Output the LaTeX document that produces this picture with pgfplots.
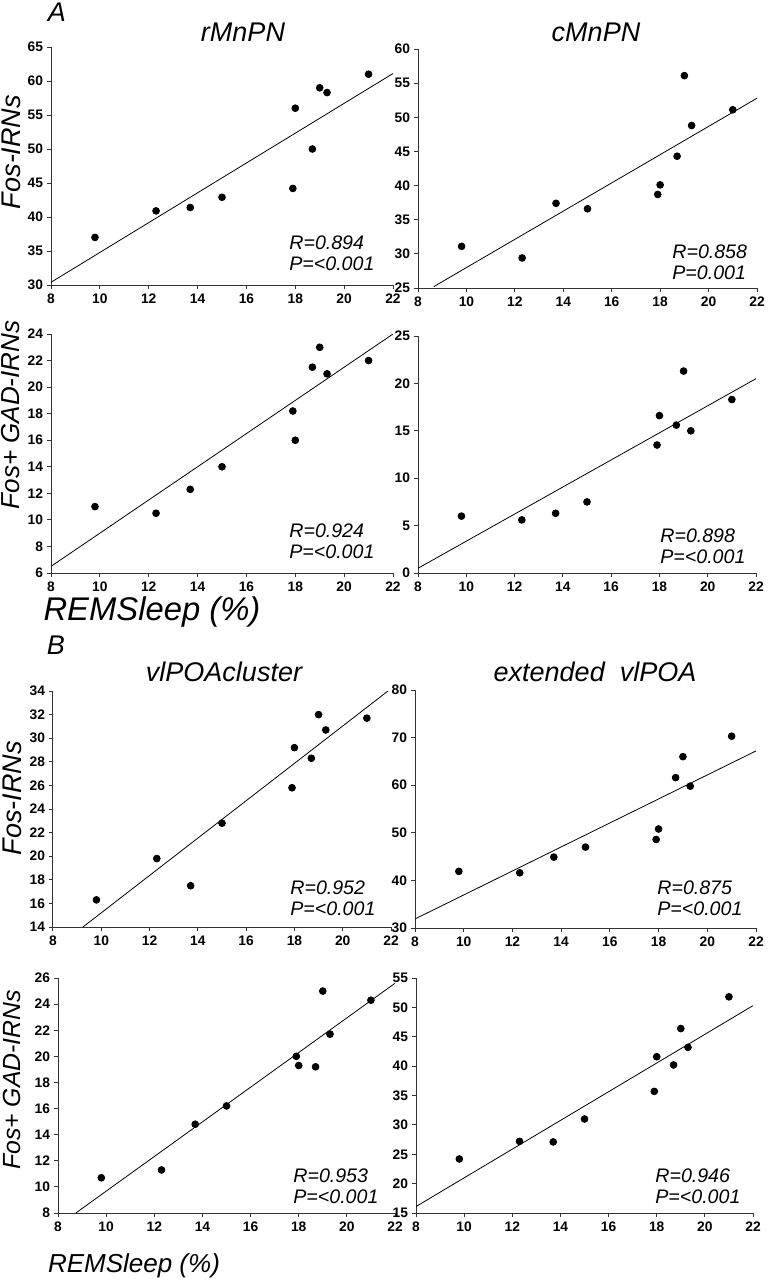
\documentclass[border=0pt]{standalone}
\usepackage{pgfplots}
\pgfplotsset{compat=1.18}
\usepackage{fontspec}
\setmainfont{Liberation Sans}

\pgfplotsset{
  panel/.style={
    scale only axis,
    anchor=south west,
    xmin=8, xmax=22,
    xtick={8,10,...,22},
    axis x line*=bottom, axis y line*=left,
    axis line style={-, black!80, line width=0.5pt},
    tick align=outside,
    major tick length=2pt,
    tick style={black!80, line width=0.5pt},
    tick label style={font=\fontsize{6.9}{8}\selectfont},
    xticklabel={\textbf{\pgfmathprintnumber[assume math mode=true]{\tick}}},
    yticklabel={\textbf{\pgfmathprintnumber[assume math mode=true]{\tick}}},
    xticklabel style={yshift=1pt},
    yticklabel style={xshift=1.5pt},
  },
  dots/.style={only marks, mark=*, mark size=1.7pt, black},
  fit/.style={no marks, black, line width=0.4pt},
}
\tikzset{stat/.style={anchor=north west, inner sep=0pt, align=left,
  font=\fontsize{9.8}{10.8}\selectfont\itshape}}

\begin{document}
\begin{tikzpicture}
\useasboundingbox (0,0) rectangle (383.5pt,-640pt);

% row 1 left: rMnPN
\begin{axis}[panel, at={(25.5pt,-142.5pt)}, width=171pt, height=119pt,
  ymin=30, ymax=65, ytick={30,35,...,65}]
\addplot[dots] coordinates {(9.8,37.0) (12.3,40.9) (13.7,41.4) (15.0,42.9) (17.9,44.2)
  (18.0,56.0) (18.7,50.0) (19.0,59.0) (19.3,58.3) (21.0,61.0)};
\addplot[fit] coordinates {(8,30.4) (22,61.1)};
\end{axis}

% row 1 right: cMnPN
\begin{axis}[panel, at={(209pt,-144pt)}, width=169.5pt, height=119.5pt,
  ymin=25, ymax=60, ytick={25,30,...,60}]
\addplot[dots] coordinates {(9.8,31.1) (12.3,29.4) (13.7,37.4) (15.0,36.6) (17.9,38.7)
  (18.0,40.1) (18.7,44.3) (19.0,56.1) (19.3,48.8) (21.0,51.1)};
\addplot[fit] coordinates {(8.65,25.2) (22,52.8)};
\end{axis}

% row 2 left
\begin{axis}[panel, at={(25.5pt,-286.5pt)}, width=171pt, height=119.5pt,
  ymin=6, ymax=24, ytick={6,8,...,24}]
\addplot[dots] coordinates {(9.8,11.0) (12.3,10.5) (13.7,12.3) (15.0,14.0) (17.9,18.2)
  (18.0,16.0) (18.7,21.5) (19.0,23.0) (19.3,21.0) (21.0,22.0)};
\addplot[fit] coordinates {(8,6.5) (22,24.0)};
\end{axis}

% row 2 right
\begin{axis}[panel, at={(209pt,-286.5pt)}, width=169pt, height=118.5pt,
  ymin=0, ymax=25, ytick={0,5,...,25}]
\addplot[dots] coordinates {(9.8,6.0) (12.3,5.6) (13.7,6.3) (15.0,7.5) (17.9,13.5)
  (18.0,16.6) (18.7,15.6) (19.0,21.3) (19.3,15.0) (21.0,18.3)};
\addplot[fit] coordinates {(8,0.5) (22,20.5)};
\end{axis}

% row 3 left: vlPOAcluster
\begin{axis}[panel, at={(26.5pt,-463.5pt)}, width=169pt, height=118pt,
  ymin=14, ymax=34, ytick={14,16,...,34}]
\addplot[dots] coordinates {(9.8,16.3) (12.3,19.8) (13.7,17.5) (15.0,22.8) (17.9,25.8)
  (18.0,29.2) (18.7,28.3) (19.0,32.0) (19.3,30.7) (21.0,31.7)};
\addplot[fit] coordinates {(9.24,14) (22,34.2)};
\end{axis}

% row 3 right: extended vlPOA
\begin{axis}[panel, at={(207.5pt,-464pt)}, width=170.5pt, height=119pt,
  ymin=30, ymax=80, ytick={30,40,...,80}]
\addplot[dots] coordinates {(9.8,41.9) (12.3,41.6) (13.7,44.9) (15.0,47.0) (17.9,48.6)
  (18.0,50.8) (18.7,61.6) (19.0,66.0) (19.3,59.8) (21.0,70.3)};
\addplot[fit] coordinates {(8,31.9) (22,67.2)};
\end{axis}

% row 4 left
\begin{axis}[panel, at={(29pt,-606.5pt)}, width=168.5pt, height=117.5pt,
  ymin=8, ymax=26, ytick={8,10,...,26}]
\addplot[dots] coordinates {(9.8,10.7) (12.3,11.3) (13.7,14.8) (15.0,16.2) (17.9,20.0)
  (18.0,19.3) (18.7,19.2) (19.0,25.0) (19.3,21.7) (21.0,24.3)};
\addplot[fit] coordinates {(8.74,8) (22,25.6)};
\end{axis}

% row 4 right
\begin{axis}[panel, at={(208pt,-606.5pt)}, width=168.5pt, height=117.5pt,
  ymin=15, ymax=55, ytick={15,20,...,55}]
\addplot[dots] coordinates {(9.8,24.2) (12.3,27.2) (13.7,27.1) (15.0,31.0) (17.9,35.7)
  (18.0,41.6) (18.7,40.2) (19.0,46.4) (19.3,43.2) (21.0,51.8)};
\addplot[fit] coordinates {(8,16.1) (22,50.3)};
\end{axis}

% panel letters and titles
\node[font=\fontsize{13.5}{14}\selectfont\itshape] at (28.5pt,-6pt) {A};
\node[font=\fontsize{13.5}{14}\selectfont\itshape] at (28pt,-322.5pt) {B};
\node[font=\fontsize{13.5}{14}\selectfont\itshape] at (121.5pt,-16pt) {rMnPN};
\node[font=\fontsize{13.5}{14}\selectfont\itshape] at (298pt,-16pt) {cMnPN};
\node[font=\fontsize{13.5}{14}\selectfont\itshape] at (112pt,-336pt) {vlPOAcluster};
\node[font=\fontsize{13.5}{14}\selectfont\itshape] at (297.5pt,-336pt) {extended\ \ vlPOA};

% y labels
\node[rotate=90, font=\fontsize{13.5}{14}\selectfont\itshape] at (5.5pt,-76pt) {Fos-IRNs};
\node[rotate=90, font=\fontsize{13}{14}\selectfont\itshape] at (5.5pt,-207.5pt) {Fos+ GAD-IRNs};
\node[rotate=90, font=\fontsize{13.5}{14}\selectfont\itshape] at (6pt,-399pt) {Fos-IRNs};
\node[rotate=90, font=\fontsize{12.4}{13}\selectfont\itshape] at (6pt,-540pt) {Fos+ GAD-IRNs};

% x labels
\node[font=\fontsize{16.4}{17}\selectfont\itshape] at (76pt,-306pt) {REMSleep (\%)};
\node[font=\fontsize{13}{14}\selectfont\itshape] at (67pt,-633pt) {REMSleep (\%)};

% statistics
\node[stat] at (144.5pt,-117.5pt) {R=0.894\\P=<0.001};
\node[stat] at (336pt,-122pt) {R=0.858\\P=0.001};
\node[stat] at (144.5pt,-261.5pt) {R=0.924\\P=<0.001};
\node[stat] at (330pt,-264pt) {R=0.898\\P=<0.001};
\node[stat] at (145pt,-440pt) {R=0.952\\P=<0.001};
\node[stat] at (328.5pt,-440pt) {R=0.875\\P=<0.001};
\node[stat] at (146.5pt,-584pt) {R=0.953\\P=<0.001};
\node[stat] at (327.5pt,-584pt) {R=0.946\\P=<0.001};
\end{tikzpicture}
\end{document}
